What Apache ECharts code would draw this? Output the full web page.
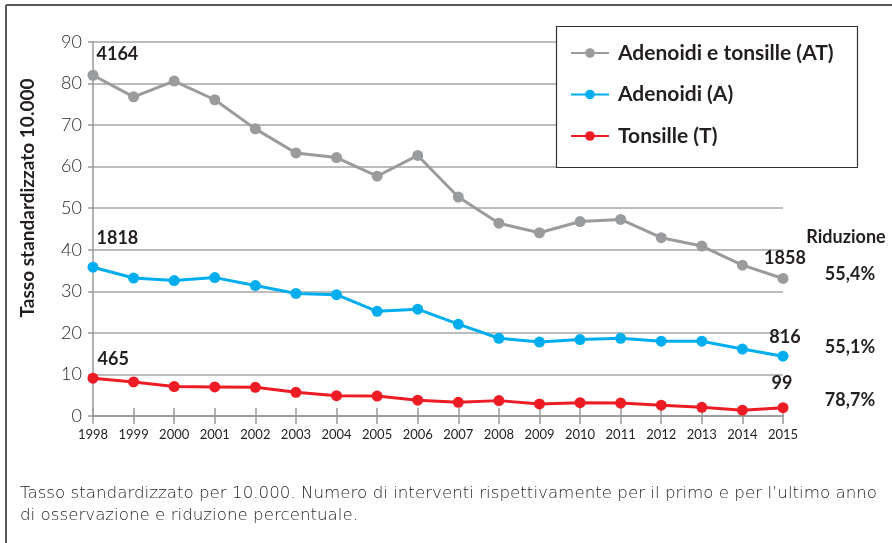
<!DOCTYPE html>
<html>
<head>
<meta charset="utf-8">
<script src="https://cdn.jsdelivr.net/npm/echarts@6/dist/echarts.min.js"></script>
<style>
html,body{margin:0;padding:0;background:#fff;}
#chart{width:892px;height:543px;}
</style>
</head>
<body>
<div id="chart"></div>
<script>
var years = ['1998','1999','2000','2001','2002','2003','2004','2005','2006','2007','2008','2009','2010','2011','2012','2013','2014','2015'];
var seriesNames = ['Adenoidi e tonsille (AT)', 'Adenoidi (A)', 'Tonsille (T)'];
var atValues = [82.0, 76.8, 80.6, 76.1, 69.1, 63.3, 62.2, 57.7, 62.7, 52.7, 46.4, 44.1, 46.8, 47.3, 42.9, 40.9, 36.3, 33.1];
var aValues  = [35.8, 33.2, 32.6, 33.3, 31.4, 29.5, 29.2, 25.2, 25.7, 22.1, 18.7, 17.8, 18.4, 18.7, 18.0, 18.0, 16.1, 14.4];
var tValues  = [9.1, 8.2, 7.1, 7.0, 6.9, 5.7, 4.9, 4.8, 3.8, 3.3, 3.7, 2.9, 3.2, 3.1, 2.6, 2.1, 1.4, 2.0];
var firstCounts = ['4164', '1818', '465'];
var lastCounts = ['1858', '816', '99'];
var reductions = ['55,4%', '55,1%', '78,7%'];
var reductionTitle = 'Riduzione';
var yTicks = [0, 90, 10];
var yAxisTitle = 'Tasso standardizzato 10.000';
var caption = ['Tasso standardizzato per 10.000. Numero di interventi rispettivamente per il primo e per l\u2019ultimo anno', 'di osservazione e riduzione percentuale.'];

var FONT = 'Lato, "Noto Sans", sans-serif';
var colors = ['#9a9b9d', '#00aeef', '#ed1c24'];
var firstOffsets = [[-2, -21], [-2, -29], [-1, -19]];
var lastOffsets = [[2, 0], [2, 2], [-1, -4]];
var pctOffsets = [[67, -4], [67, -9], [67, -8]];
var valueSets = [atValues, aValues, tValues];

function buildData(vals, idx) {
  return vals.map(function (v, i) {
    if (i === 0) {
      return {value: v, label: {show: true, position: 'right', distance: 0, formatter: firstCounts[idx],
        offset: firstOffsets[idx], fontFamily: FONT, fontWeight: 'bold', fontSize: 18, color: '#231f20'}};
    }
    if (i === vals.length - 1) {
      return {value: v, label: {show: true, position: 'top', distance: 6, formatter: lastCounts[idx],
        offset: lastOffsets[idx], fontFamily: FONT, fontWeight: 'bold', fontSize: 18, color: '#231f20'}};
    }
    return v;
  });
}

var series = seriesNames.map(function (name, idx) {
  var vals = valueSets[idx];
  var mp = [{coord: [years[years.length - 1], vals[vals.length - 1]], value: reductions[idx],
    label: {offset: pctOffsets[idx]}}];
  if (idx === 0) {
    mp.push({coord: [years[years.length - 1], vals[vals.length - 1]], value: reductionTitle,
      label: {offset: [63, -41]}});
  }
  return {
    name: name,
    type: 'line',
    data: buildData(vals, idx),
    symbol: 'circle',
    symbolSize: 11,
    lineStyle: {width: 3, color: colors[idx]},
    itemStyle: {color: colors[idx]},
    z: 3 + idx,
    animation: false,
    markPoint: {
      symbol: 'circle', symbolSize: 0, silent: true,
      label: {show: true, position: 'inside', formatter: '{c}', fontFamily: FONT, fontWeight: 'bold', fontSize: 18, color: '#231f20'},
      data: mp
    }
  };
});

var chart = echarts.init(document.getElementById('chart'), null, {renderer: 'canvas'});
var option = {
  animation: false,
  backgroundColor: '#fff',
  color: colors,
  textStyle: {fontFamily: FONT},
  grid: {left: 93, right: 109, top: 42, bottom: 127, containLabel: false},
  legend: {
    orient: 'vertical', left: 565, top: 37,
    itemWidth: 38, itemHeight: 12, itemGap: 19.5,
    data: seriesNames,
    textStyle: {fontFamily: FONT, fontWeight: 'bold', fontSize: 21, color: '#231f20', lineHeight: 22, padding: [0, 0, 0, 4]},
    z: 20
  },
  xAxis: [{
    type: 'category', data: years, boundaryGap: false, position: 'bottom',
    axisLine: {onZero: false, lineStyle: {color: '#9a9a9a', width: 1.5}},
    axisTick: {show: true, length: 8, lineStyle: {color: '#9a9a9a', width: 1.5}},
    axisLabel: {fontFamily: FONT, fontSize: 13, color: '#231f20', margin: 12},
    splitLine: {show: false}
  }, {
    type: 'category', data: years, boundaryGap: false, position: 'top',
    axisLine: {show: true, onZero: true, lineStyle: {color: '#9a9a9a', width: 1.5}},
    axisTick: {show: true, length: 8, lineStyle: {color: '#9a9a9a', width: 1.5}},
    axisLabel: {show: false},
    splitLine: {show: false}
  }],
  yAxis: {
    type: 'value', min: yTicks[0], max: yTicks[1], interval: yTicks[2],
    axisLine: {show: true, lineStyle: {color: '#9a9a9a', width: 1.5}},
    axisTick: {show: true, length: 5, lineStyle: {color: '#9a9a9a', width: 1.5}},
    axisLabel: {fontFamily: FONT, fontSize: 18, fontWeight: 300, color: '#231f20', margin: 11},
    splitLine: {show: true, lineStyle: {color: '#a6a6a6', width: 1.5}}
  },
  series: series,
  graphic: [
    {type: 'line', shape: {x1: 6, y1: 5, x2: 892, y2: 5}, style: {stroke: '#5a5a5a', lineWidth: 2}, z: 100},
    {type: 'line', shape: {x1: 6, y1: 5, x2: 6, y2: 543}, style: {stroke: '#5a5a5a', lineWidth: 2}, z: 100},
    {type: 'rect', shape: {x: 556.5, y: 26.5, width: 301, height: 141}, style: {fill: '#fff', stroke: '#333', lineWidth: 1.2}, z: 10, zlevel: 0},
    {type: 'text', x: 28, y: 198, rotation: Math.PI / 2,
      style: {text: yAxisTitle, fontFamily: FONT, fontWeight: 'bold', fontSize: 19, fill: '#231f20', align: 'center', verticalAlign: 'middle'}},
    {type: 'text', x: 20, y: 494,
      style: {text: caption[0], fontFamily: '"DejaVu Sans", sans-serif', fontSize: 16.7, fontWeight: 200, fill: '#231f20', align: 'left', verticalAlign: 'middle'}},
    {type: 'text', x: 20, y: 516,
      style: {text: caption[1], fontFamily: '"DejaVu Sans", sans-serif', fontSize: 16.7, fontWeight: 200, fill: '#231f20', align: 'left', verticalAlign: 'middle'}}
  ]
};
chart.setOption(option);
</script>
</body>
</html>
